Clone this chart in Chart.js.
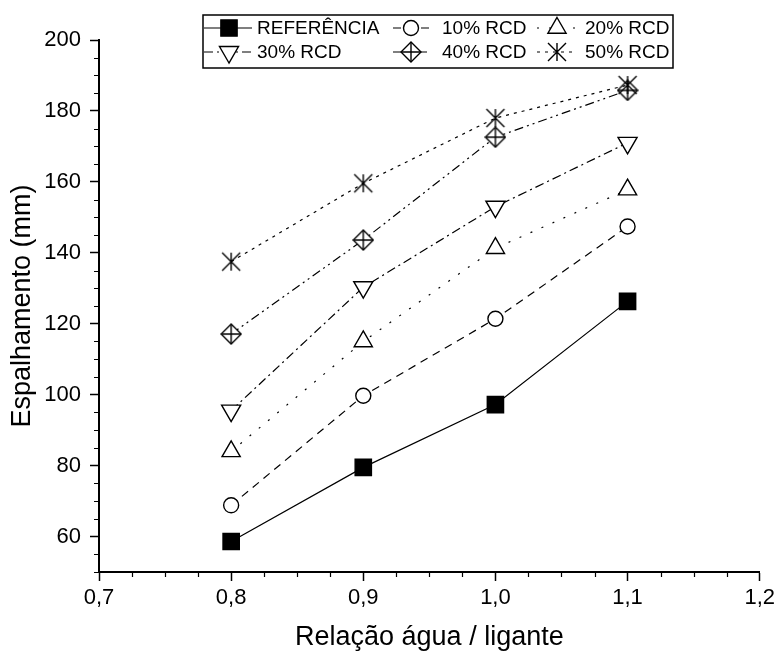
<!DOCTYPE html>
<html><head><meta charset="utf-8">
<script src="https://cdn.jsdelivr.net/npm/chart.js@4/dist/chart.umd.min.js"></script>
<style>html,body{margin:0;padding:0;background:#fff}#wrap{width:779px;height:655px;position:relative}</style>
</head><body><div id="wrap"><canvas id="c" width="779" height="655"></canvas></div>
<script>
// ---- data ----
const seriesLabels = ['REFERÊNCIA', '10% RCD', '20% RCD', '30% RCD', '40% RCD', '50% RCD'];
const xValues = [0.8, 0.9, 1.0, 1.1];
const referencia = [58.6, 79.5, 97.2, 126.3];
const rcd10 = [68.8, 99.7, 121.4, 147.4];
const rcd20 = [84.0, 115.0, 141.3, 157.8];
const rcd30 = [95.5, 130.3, 153.0, 171.0];
const rcd40 = [117.1, 143.6, 172.6, 185.8];
const rcd50 = [137.5, 159.6, 178.0, 187.3];
const xTickValues = [0.7, 0.8, 0.9, 1.0, 1.1, 1.2];
const yTickValues = [60, 80, 100, 120, 140, 160, 180, 200];
const xTitle = 'Relação água / ligante';
const yTitle = 'Espalhamento (mm)';

const FONT = "'Liberation Sans', Arial, sans-serif";

function makeDiamondCross(s) {
  const c = document.createElement('canvas'); c.width = s; c.height = s;
  const g = c.getContext('2d');
  g.fillStyle = '#fff'; g.strokeStyle = '#000'; g.lineWidth = 1.4;
  const h = s / 2, r = h - 1;
  g.beginPath(); g.moveTo(h, h - r); g.lineTo(h + r, h); g.lineTo(h, h + r); g.lineTo(h - r, h); g.closePath();
  g.fill(); g.stroke();
  g.beginPath(); g.moveTo(h, h - r); g.lineTo(h, h + r); g.moveTo(h - r, h); g.lineTo(h + r, h); g.stroke();
  return c;
}
function makeStarX(s) {
  const c = document.createElement('canvas'); c.width = s; c.height = s;
  const g = c.getContext('2d');
  g.strokeStyle = '#000'; g.lineWidth = 1.4;
  const h = s / 2, r = h - 2;
  g.beginPath();
  g.moveTo(h - r, h - r); g.lineTo(h + r, h + r);
  g.moveTo(h + r, h - r); g.lineTo(h - r, h + r);
  g.moveTo(h, h - r); g.lineTo(h, h + r);
  g.stroke();
  return c;
}
const diamondImg = makeDiamondCross(22);
const starImg = makeStarX(22);

function pts(arr) { return xValues.map((x, i) => ({ x: x, y: arr[i] })); }

const base = { borderColor: '#000', borderWidth: 1.2, pointBorderColor: '#000', pointBorderWidth: 1.4, showLine: true, fill: false, tension: 0 };
const datasets = [
  Object.assign({}, base, { label: seriesLabels[0], data: pts(referencia), borderDash: [], pointStyle: 'rect', pointRadius: 11.5, pointBackgroundColor: '#000' }),
  Object.assign({}, base, { label: seriesLabels[1], data: pts(rcd10), borderDash: [8, 6], pointStyle: 'circle', pointRadius: 7.5, pointBackgroundColor: '#fff' }),
  Object.assign({}, base, { label: seriesLabels[2], data: pts(rcd20), borderDash: [2, 10], pointStyle: 'triangle', pointRadius: 10.5, pointBackgroundColor: '#fff' }),
  Object.assign({}, base, { label: seriesLabels[3], data: pts(rcd30), borderDash: [9, 4, 2, 4], pointStyle: 'triangle', pointRotation: 180, pointRadius: 11, pointBackgroundColor: '#fff' }),
  Object.assign({}, base, { label: seriesLabels[4], data: pts(rcd40), borderDash: [9, 4, 2, 4, 2, 4], pointStyle: diamondImg, pointRadius: 10, pointBackgroundColor: '#fff' }),
  Object.assign({}, base, { label: seriesLabels[5], data: pts(rcd50), borderDash: [3, 5], pointStyle: starImg, pointRadius: 10, pointBackgroundColor: '#fff' })
];
datasets.forEach((d, i) => { d.order = 6 - i; });

function drawMarker(ctx, ds, x, y) {
  const st = ds.pointStyle, r = ds.pointRadius;
  ctx.save();
  ctx.fillStyle = ds.pointBackgroundColor; ctx.strokeStyle = '#000'; ctx.lineWidth = ds.pointBorderWidth; ctx.setLineDash([]);
  if (typeof st !== 'string') {
    ctx.drawImage(st, x - st.width / 2, y - st.height / 2);
  } else if (st === 'rect') {
    const s = Math.SQRT1_2 * r;
    ctx.beginPath(); ctx.rect(x - s, y - s, 2 * s, 2 * s); ctx.fill(); ctx.stroke();
  } else if (st === 'circle') {
    ctx.beginPath(); ctx.arc(x, y, r, 0, Math.PI * 2); ctx.fill(); ctx.stroke();
  } else if (st === 'triangle') {
    let rad = (ds.pointRotation || 0) * Math.PI / 180;
    ctx.beginPath();
    ctx.moveTo(x + Math.sin(rad) * r, y - Math.cos(rad) * r);
    rad += 2 * Math.PI / 3; ctx.lineTo(x + Math.sin(rad) * r, y - Math.cos(rad) * r);
    rad += 2 * Math.PI / 3; ctx.lineTo(x + Math.sin(rad) * r, y - Math.cos(rad) * r);
    ctx.closePath(); ctx.fill(); ctx.stroke();
  }
  ctx.restore();
}

const legendCols = [{ l0: 204, l1: 252, m: 229, t: 257 }, { l0: 393, l1: 431, m: 411, t: 442 }, { l0: 537, l1: 577, m: 557, t: 585 }];
const legendRows = [28, 52];
const legendPlugin = {
  id: 'boxLegend',
  afterDraw(chart) {
    const ctx = chart.ctx;
    ctx.save();
    ctx.strokeStyle = '#000'; ctx.lineWidth = 1.5; ctx.setLineDash([]);
    ctx.strokeRect(203, 15, 470, 53);
    ctx.font = '19px ' + FONT; ctx.fillStyle = '#000'; ctx.textBaseline = 'middle'; ctx.textAlign = 'left';
    chart.data.datasets.forEach((ds, i) => {
      const col = legendCols[i % 3], y = legendRows[Math.floor(i / 3)];
      ctx.save();
      ctx.strokeStyle = '#000'; ctx.lineWidth = 1.2; ctx.setLineDash(ds.borderDash);
      ctx.beginPath(); ctx.moveTo(col.l0, y); ctx.lineTo(col.l1, y); ctx.stroke();
      ctx.restore();
      drawMarker(ctx, ds, col.m, y);
      ctx.fillText(ds.label, col.t, y + 1);
    });
    ctx.restore();
  }
};

const minorTickPlugin = {
  id: 'minorTicks',
  afterDraw(chart) {
    const ctx = chart.ctx, xs = chart.scales.x, ys = chart.scales.y;
    ctx.save(); ctx.strokeStyle = '#000'; ctx.lineWidth = 1.2; ctx.setLineDash([]);
    ctx.beginPath();
    for (let v = ys.min; v <= ys.max + 1e-9; v += 5) {
      if (yTickValues.indexOf(Math.round(v)) >= 0) continue;
      const py = Math.round(ys.getPixelForValue(v)) + 0.5;
      ctx.moveTo(xs.left - 5, py); ctx.lineTo(xs.left, py);
    }
    for (let k = 0; k <= 20; k++) {
      if (k % 4 === 0) continue;
      const v = xs.min + k * 0.025;
      const px = Math.round(xs.getPixelForValue(v)) + 0.5;
      ctx.moveTo(px, ys.bottom); ctx.lineTo(px, ys.bottom + 5);
    }
    ctx.stroke(); ctx.restore();
  }
};

new Chart(document.getElementById('c'), {
  type: 'scatter',
  data: { datasets: datasets },
  plugins: [legendPlugin, minorTickPlugin],
  options: {
    responsive: false, animation: false, devicePixelRatio: 1,
    layout: { padding: { top: 40, right: 19, left: 0, bottom: 0 } },
    plugins: { legend: { display: false }, tooltip: { enabled: false } },
    elements: { line: { borderJoinStyle: 'miter' } },
    scales: {
      x: {
        type: 'linear', min: 0.7, max: 1.2,
        afterBuildTicks: s => { s.ticks = xTickValues.map(v => ({ value: v })); },
        afterFit: s => { s.height = 83; },
        ticks: { autoSkip: false, maxRotation: 0, color: '#000', padding: 4,
          font: { family: FONT, size: 22 },
          callback: v => Number(v).toFixed(1).replace('.', ',') },
        grid: { display: true, drawOnChartArea: false, drawTicks: true, tickLength: 9, tickColor: '#000', tickWidth: 1.5 },
        border: { display: true, color: '#000', width: 2 },
        title: { display: true, text: xTitle, color: '#000', font: { family: FONT, size: 27 }, padding: { top: 0, bottom: 1 } }
      },
      y: {
        type: 'linear', min: 50, max: 200,
        afterBuildTicks: s => { s.ticks = yTickValues.map(v => ({ value: v })); },
        afterFit: s => { s.width = 99; },
        ticks: { color: '#000', padding: 9, font: { family: FONT, size: 22 } },
        grid: { display: true, drawOnChartArea: false, drawTicks: true, tickLength: 9, tickColor: '#000', tickWidth: 1.5 },
        border: { display: true, color: '#000', width: 2 },
        title: { display: true, text: yTitle, color: '#000', font: { family: FONT, size: 27 }, padding: { top: 6, bottom: 0 } }
      }
    }
  }
});
</script></body></html>
